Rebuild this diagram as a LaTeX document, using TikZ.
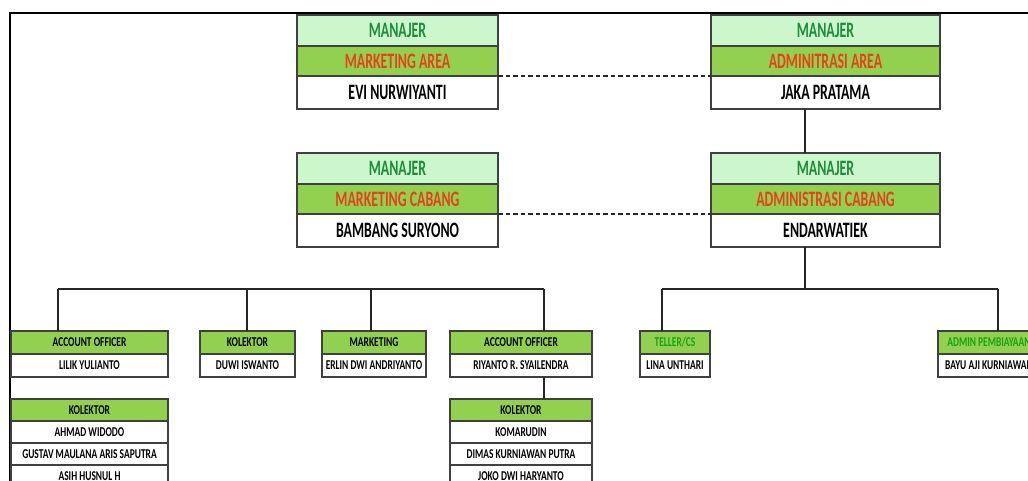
\documentclass[tikz,border=0pt]{standalone}
\usepackage{fontspec}
\newfontfamily\bigfont[FakeStretch=0.63]{Carlito}
\newfontfamily\smallfont[FakeStretch=0.70]{Carlito}
\usepackage{tikz}
\usetikzlibrary{positioning}
\definecolor{palegrn}{HTML}{CCF7CC}
\definecolor{midgrn}{HTML}{92D050}
\definecolor{titlegrn}{HTML}{1E8C3C}
\definecolor{titlered}{HTML}{E8401C}
\definecolor{boxline}{HTML}{404040}
\definecolor{tellergrn}{HTML}{1AA01A}

\begin{document}
\begin{tikzpicture}[x=1pt, y=-1pt,
		toprow/.style={draw=boxline, line width=1.2pt, inner sep=0pt, outer sep=0pt, font=\bigfont\bfseries\fontsize{22}{22}\selectfont},
		top1/.style={toprow, fill=palegrn, text=titlegrn, minimum height=31},
		top2/.style={toprow, fill=midgrn, text=titlered, minimum height=30},
		top3/.style={toprow, fill=white, text=black, minimum height=33},
		headrow/.style={draw=boxline, line width=1.2pt, inner sep=0pt, outer sep=0pt, fill=midgrn, minimum height=23, font=\smallfont\bfseries\fontsize{13.5}{13.5}\selectfont},
		namerow/.style={headrow, fill=white},
		conn/.style={line width=1.5pt, black!85},
		dashlink/.style={conn, dash pattern=on 4.5pt off 3pt}]
		\useasboundingbox (0,0) rectangle (1028,481);

		% frame of the sheet
		\draw[line width=2pt] (10,481) -- (10,13) -- (1028,13);

		% managers
		\node[top1, minimum width=201, anchor=north west] (ma1) at (297,15) {MANAJER};
		\node[top2, minimum width=201, below=0pt of ma1] (ma2) {MARKETING AREA};
		\node[top3, minimum width=201, below=0pt of ma2] (ma3) {EVI NURWIYANTI};

		\node[top1, minimum width=229, anchor=north west] (aa1) at (711,15) {MANAJER};
		\node[top2, minimum width=229, below=0pt of aa1] (aa2) {ADMINITRASI AREA};
		\node[top3, minimum width=229, below=0pt of aa2] (aa3) {JAKA PRATAMA};

		\node[top1, minimum width=201, anchor=north west] (mc1) at (297,153) {MANAJER};
		\node[top2, minimum width=201, below=0pt of mc1] (mc2) {MARKETING CABANG};
		\node[top3, minimum width=201, below=0pt of mc2] (mc3) {BAMBANG SURYONO};

		\node[top1, minimum width=229, anchor=north west] (ac1) at (711,153) {MANAJER};
		\node[top2, minimum width=229, below=0pt of ac1] (ac2) {ADMINISTRASI CABANG};
		\node[top3, minimum width=229, below=0pt of ac2] (ac3) {ENDARWATIEK};

		% staff
		\node[headrow, minimum width=157, anchor=north west] (ao1h) at (11,331) {ACCOUNT OFFICER};
		\node[namerow, minimum width=157, below=0pt of ao1h] (ao1n) {LILIK YULIANTO};

		\node[headrow, minimum width=95, anchor=north west] (kl1h) at (200,331) {KOLEKTOR};
		\node[namerow, minimum width=95, below=0pt of kl1h] (kl1n) {DUWI ISWANTO};

		\node[headrow, minimum width=104, anchor=north west] (mk1h) at (322,331) {MARKETING};
		\node[namerow, minimum width=104, below=0pt of mk1h] (mk1n) {ERLIN DWI ANDRIYANTO};

		\node[headrow, minimum width=142, anchor=north west] (ao2h) at (450,331) {ACCOUNT OFFICER};
		\node[namerow, minimum width=142, below=0pt of ao2h] (ao2n) {RIYANTO R. SYAILENDRA};

		\node[headrow, minimum width=70, text=tellergrn, anchor=north west] (telh) at (640,331) {TELLER/CS};
		\node[namerow, minimum width=70, below=0pt of telh] (teln) {LINA UNTHARI};

		\node[headrow, minimum width=102, text=tellergrn, anchor=north west] (admh) at (938,331) {ADMIN PEMBIAYAAN};
		\node[namerow, minimum width=102, below=0pt of admh] (admn) {BAYU AJI KURNIAWAN};

		% collectors
		\node[headrow, minimum width=157, minimum height=22, anchor=north west] (kl2h) at (11,399) {KOLEKTOR};
		\node[namerow, minimum width=157, minimum height=22, below=0pt of kl2h] (kl2a) {AHMAD WIDODO};
		\node[namerow, minimum width=157, minimum height=22, below=0pt of kl2a] (kl2b) {GUSTAV MAULANA ARIS SAPUTRA};
		\node[namerow, minimum width=157, minimum height=22, below=0pt of kl2b] (kl2c) {ASIH HUSNUL H};

		\node[headrow, minimum width=142, minimum height=22, anchor=north west] (kl3h) at (450,399) {KOLEKTOR};
		\node[namerow, minimum width=142, minimum height=22, below=0pt of kl3h] (kl3a) {KOMARUDIN};
		\node[namerow, minimum width=142, minimum height=22, below=0pt of kl3a] (kl3b) {DIMAS KURNIAWAN PUTRA};
		\node[namerow, minimum width=142, minimum height=22, below=0pt of kl3b] (kl3c) {JOKO DWI HARYANTO};

		% dashed links
		\draw[dashlink] (ma3.north east) -- (aa3.north west);
		\draw[dashlink] (mc3.north east) -- (ac3.north west);

		% tree lines
		\coordinate (spine) at (805,289);
		\coordinate (tlt) at (662,289);
		\coordinate (adt) at (998,289);
		\coordinate (ao1t) at (58,289);
		\coordinate (kl1t) at (247,289);
		\coordinate (mk1t) at (371,289);
		\coordinate (ao2t) at (544,289);

		\draw[conn] (aa3.south -| spine) -- (ac1.north -| spine);
		\draw[conn] (ac3.south -| spine) -- (spine);
		\draw[conn] (tlt) -- (adt);
		\draw[conn] (tlt) -- (telh.north -| tlt);
		\draw[conn] (adt) -- (admh.north -| adt);

		\draw[conn] (ao1t) -- (ao2t);
		\draw[conn] (ao1t) -- (ao1h.north -| ao1t);
		\draw[conn] (kl1t) -- (kl1h.north -| kl1t);
		\draw[conn] (mk1t) -- (mk1h.north -| mk1t);
		\draw[conn] (ao2t) -- (ao2h.north -| ao2t);
		\draw[conn] (ao2n.south -| ao2t) -- (kl3h.north -| ao2t);
	\end{tikzpicture}
\end{document}
